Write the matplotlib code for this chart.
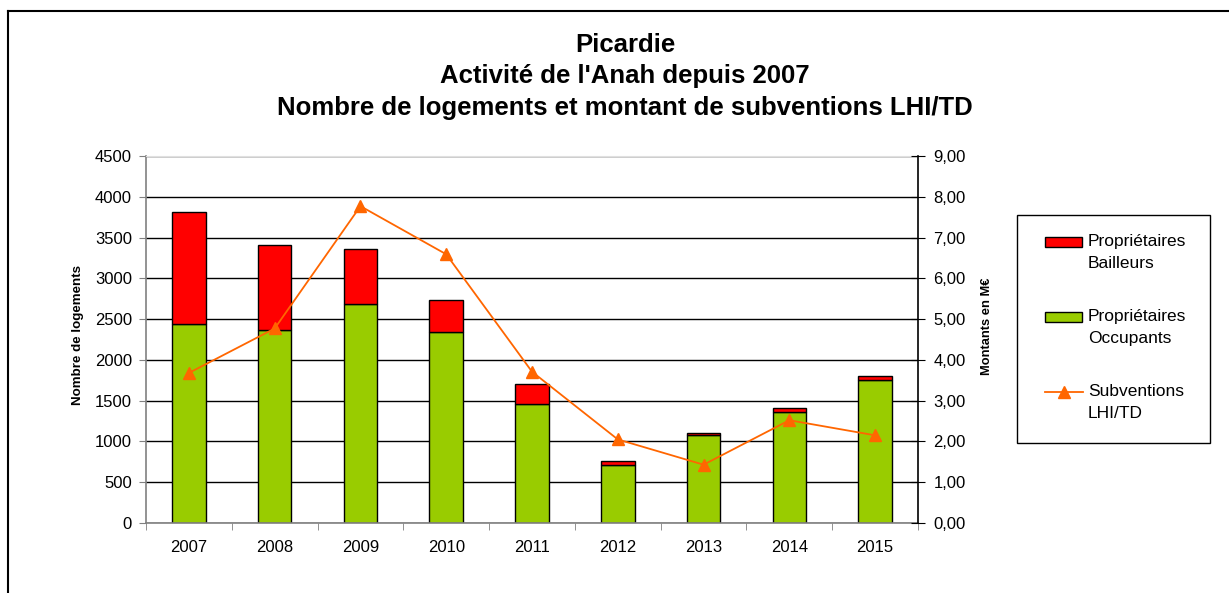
import matplotlib
matplotlib.use("Agg")
import matplotlib.pyplot as plt
from matplotlib.lines import Line2D
from matplotlib.patches import Rectangle
import numpy as np

plt.rcParams['font.family'] = ['Liberation Sans', 'DejaVu Sans']

years = ["2007", "2008", "2009", "2010", "2011", "2012", "2013", "2014", "2015"]
occupants = [2440, 2370, 2690, 2340, 1465, 710, 1075, 1357, 1752]
bailleurs = [1370, 1042, 673, 390, 235, 50, 28, 52, 49]
subventions = [3.68, 4.77, 7.77, 6.59, 3.71, 2.05, 1.43, 2.52, 2.15]

title_lines = ["Picardie", "Activité de l'Anah depuis 2007",
               "Nombre de logements et montant de subventions LHI/TD"]
legend_labels = [("Propriétaires", "Bailleurs"), ("Propriétaires", "Occupants"),
                 ("Subventions", "LHI/TD")]

RED = "#FF0000"
GREEN = "#99CC00"
ORANGE = "#FF6600"

W, H = 1229, 593
fig = plt.figure(figsize=(W / 100, H / 100), dpi=100)

def fx(px):
    return px / W

def fy(py):
    return 1 - py / H

ax = fig.add_axes([fx(146), fy(523), fx(918) - fx(146), fy(156) - fy(523)])
x = np.arange(len(years))

ax.set_axisbelow(True)
ax.bar(x, occupants, width=0.39, color=GREEN, edgecolor="black", linewidth=1.0, zorder=2)
ax.bar(x, bailleurs, width=0.39, bottom=occupants, color=RED, edgecolor="black",
       linewidth=1.0, zorder=2)

ax.set_xlim(-0.5, len(years) - 0.5)
ax.set_ylim(0, 4500)
ax.set_yticks(np.arange(0, 4501, 500))
ax.yaxis.grid(True, color="black", linewidth=1.0)
ax.set_xticks(x)
ax.set_xticklabels(years)
ax.set_xticks(np.arange(-0.5, len(years), 1.0), minor=True)
ax.tick_params(axis="x", which="major", length=0, pad=12, labelsize=12)
ax.tick_params(axis="x", which="minor", length=5, direction="out", color="#808080")
ax.tick_params(axis="y", length=5, direction="out", labelsize=12, pad=5, color="#808080")
for s in ["left", "bottom"]:
    ax.spines[s].set_color("#808080")
    ax.spines[s].set_linewidth(1.2)
ax.spines["top"].set_color("#E0E0E0")
ax.spines["right"].set_visible(False)
ax.set_ylabel("Nombre de logements", fontsize=9.6, fontweight="bold")
ax.yaxis.set_label_coords(-0.080, 0.512)

ax2 = ax.twinx()
ax2.plot(x, subventions, color=ORANGE, linewidth=1.3, marker="^", markersize=8,
         markeredgecolor=ORANGE, markerfacecolor=ORANGE, zorder=3)
ax2.set_ylim(0, 9)
ax2.set_yticks(np.arange(0, 9.01, 1.0))
ax2.set_yticklabels([f"{v:.2f}".replace(".", ",") for v in np.arange(0, 9.01, 1.0)])
ax2.tick_params(axis="y", length=10, direction="inout", labelsize=12, pad=6)
for s in ["left", "bottom", "top"]:
    ax2.spines[s].set_visible(False)
ax2.spines["right"].set_color("black")
ax2.spines["right"].set_linewidth(1.2)
ax2.set_ylabel("Montants en M€", fontsize=9.3, fontweight="bold", rotation=90)
ax2.yaxis.set_label_coords(1.082, 0.537)

ys = [45, 76, 108]
for t, yy in zip(title_lines, ys):
    fig.text(0.5085, fy(yy), t, ha="center", va="center", fontsize=18.5, fontweight="bold")

# Legend drawn manually (handles aligned with first label line, as in the reference)
fig.add_artist(Rectangle((fx(1017), fy(443)), fx(1210) - fx(1017), fy(215) - fy(443),
                         transform=fig.transFigure, facecolor="white", edgecolor="black",
                         linewidth=1.0))
entry_y = [242, 317, 392]
for i, ((l1, l2), yy) in enumerate(zip(legend_labels, entry_y)):
    if i < 2:
        col = RED if i == 0 else GREEN
        fig.add_artist(Rectangle((fx(1045), fy(yy + 5)), fx(1082) - fx(1045), fy(yy - 5) - fy(yy + 5),
                                 transform=fig.transFigure, facecolor=col, edgecolor="black",
                                 linewidth=1.0))
    else:
        fig.add_artist(Line2D([fx(1045), fx(1083)], [fy(yy), fy(yy)], transform=fig.transFigure,
                              color=ORANGE, linewidth=1.3))
        fig.add_artist(Line2D([fx(1064)], [fy(yy)], transform=fig.transFigure, color=ORANGE,
                              marker="^", markersize=8, linestyle="none"))
    fig.text(fx(1088), fy(yy), l1, ha="left", va="center", fontsize=12.5)
    fig.text(fx(1088), fy(yy + 21), l2, ha="left", va="center", fontsize=12.5)

fig.add_artist(Line2D([fx(8), fx(8)], [fy(11), 0], transform=fig.transFigure,
                      color="black", linewidth=1.5))
fig.add_artist(Line2D([fx(8), 1], [fy(11), fy(11)], transform=fig.transFigure,
                      color="black", linewidth=1.5))

fig.savefig("out.png", dpi=100)
